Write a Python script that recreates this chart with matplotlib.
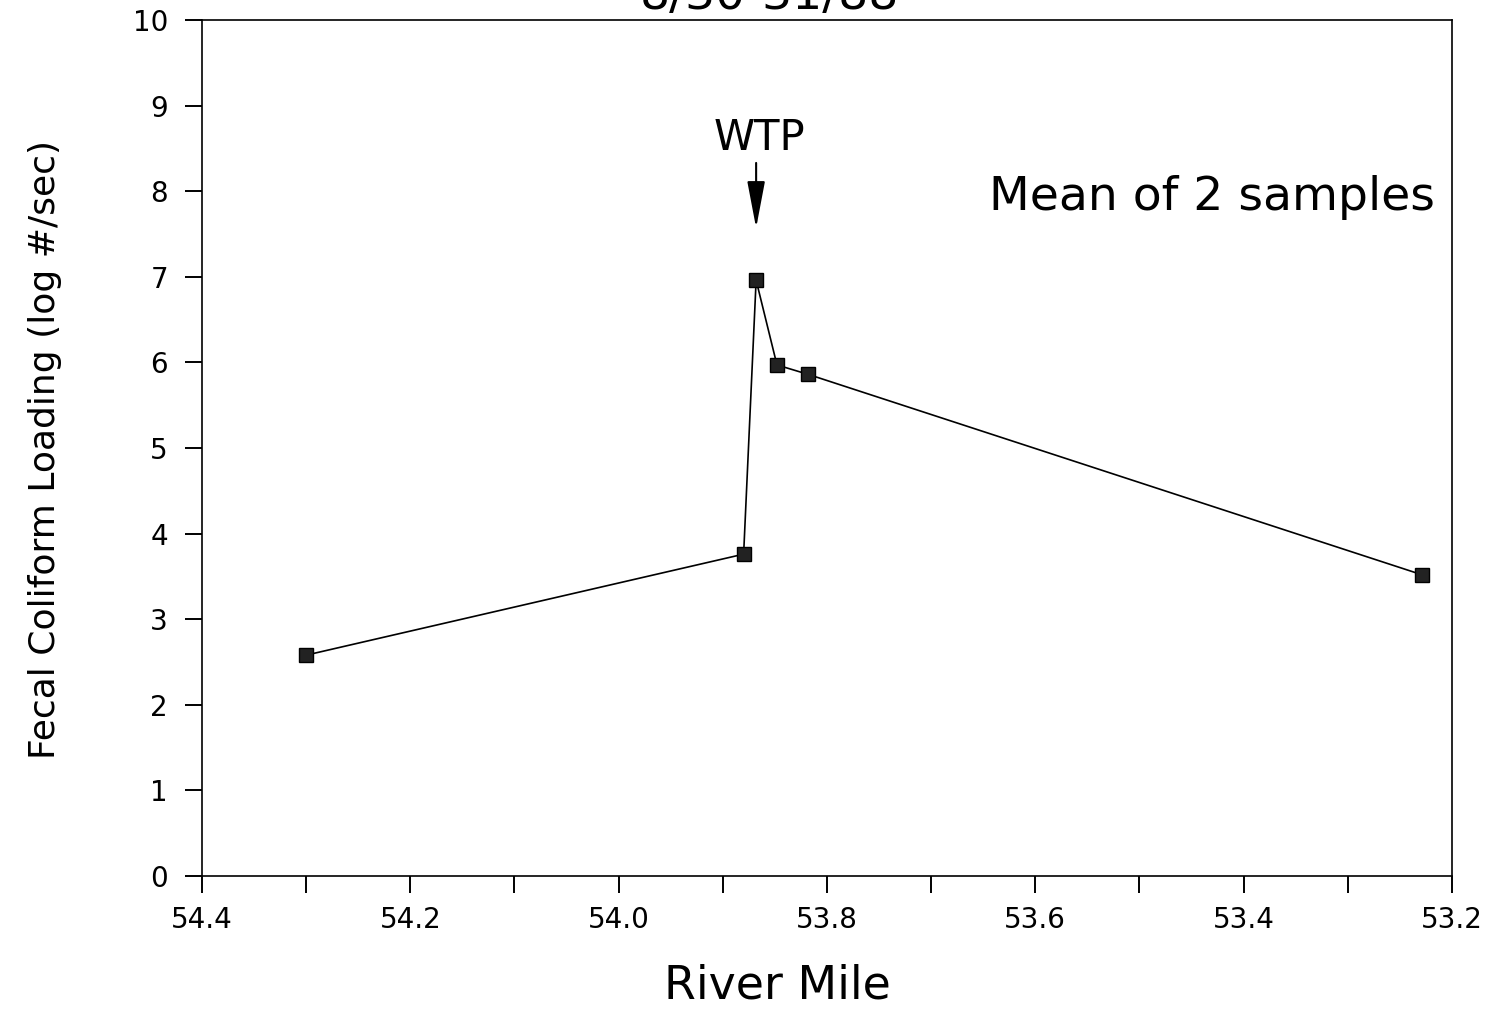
import matplotlib.pyplot as plt
from matplotlib.ticker import MultipleLocator, FormatStrFormatter

# River mile vs. fecal coliform loading (log #/sec)
river_mile = [54.30, 53.88, 53.868, 53.848, 53.818, 53.229]
loading = [2.58, 3.76, 6.96, 5.97, 5.86, 3.52]

wtp_mile = 53.868

fig = plt.figure(figsize=(14.86, 10.09), dpi=100)
ax = fig.add_axes([0.1359, 0.1318, 0.9771 - 0.1359, 0.9802 - 0.1318])

ax.plot(river_mile, loading, color='black', linewidth=1.2,
        marker='s', markersize=10, markerfacecolor='#222222',
        markeredgecolor='black')

ax.set_xlim(54.4, 53.2)
ax.set_ylim(0, 10)
ax.xaxis.set_major_locator(MultipleLocator(0.2))
ax.xaxis.set_minor_locator(MultipleLocator(0.1))
ax.xaxis.set_major_formatter(FormatStrFormatter('%.1f'))
ax.yaxis.set_major_locator(MultipleLocator(1))

ax.tick_params(axis='both', which='both', direction='out', length=12.5,
               width=1.4, labelsize=20)
ax.tick_params(axis='x', pad=9)
ax.tick_params(axis='y', pad=12)
for s in ax.spines.values():
    s.set_linewidth(1.2)

ax.set_xlabel('River Mile', fontsize=33)
ax.xaxis.set_label_coords(0.46, -0.102)
ax.set_ylabel('Fecal Coliform Loading (log #/sec)', fontsize=26)
ax.yaxis.set_label_coords(-0.112, 0.498)

ax.annotate('', xy=(wtp_mile, 7.57), xytext=(wtp_mile, 8.33),
            arrowprops=dict(arrowstyle='-|>,head_length=2.9,head_width=0.55',
                            color='black', lw=1.5, shrinkA=0, shrinkB=0))
ax.text(wtp_mile - 0.003, 8.62, 'WTP', fontsize=30, ha='center', va='center')
ax.text(53.216, 7.93, 'Mean of 2 samples', fontsize=34, ha='right',
        va='center')

fig.text(0.518, 1 - 9 / 1009, '8/30-31/88', fontsize=34, ha='center',
         va='baseline')

fig.savefig('out.png', dpi=100)
